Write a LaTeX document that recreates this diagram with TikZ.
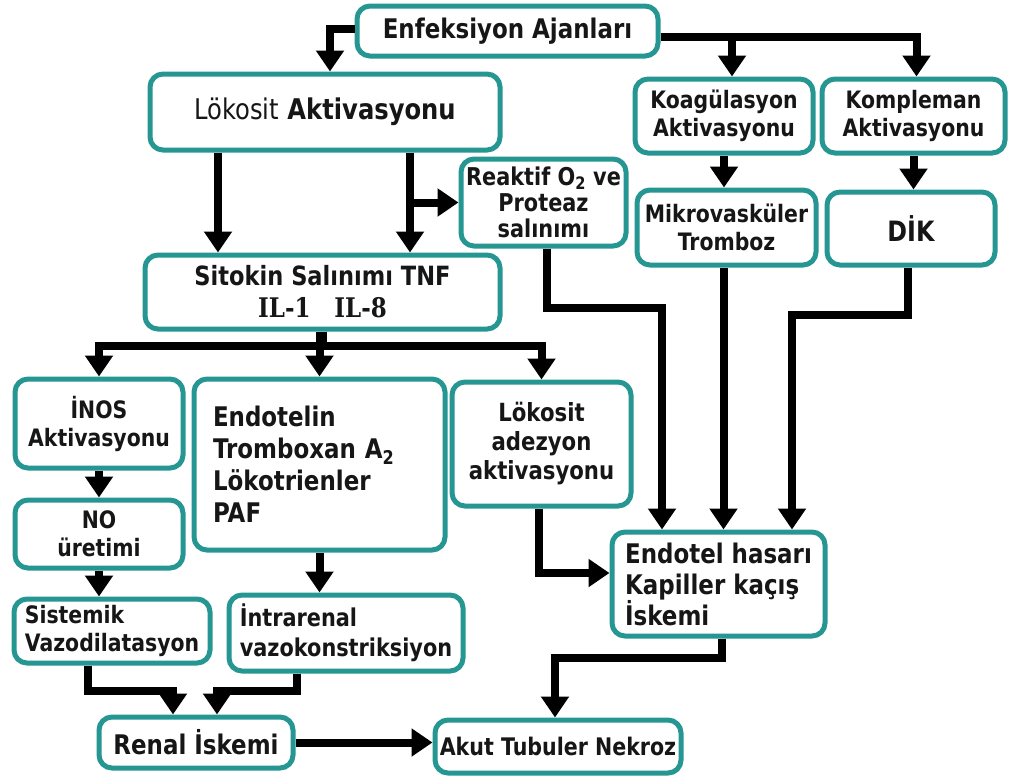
\documentclass[tikz,border=0pt]{standalone}
\usepackage{fontspec}
\setmainfont{DejaVu Sans}[FakeStretch=0.85]
\newfontfamily\slabfont{DejaVu Serif}[FakeStretch=0.85]
\usetikzlibrary{arrows.meta}
\definecolor{tealbox}{RGB}{38,150,146}
\definecolor{ink}{RGB}{22,22,22}
\begin{document}
\begin{tikzpicture}[x=1pt,y=-1pt,
  box/.style={draw=tealbox, line width=5pt, rounded corners=13pt, fill=white,
    align=center, inner sep=3pt, text=ink,
    font=\bfseries\fontsize{24}{28}\selectfont},
  big/.style={font=\bfseries\fontsize{27}{32}\selectfont},
  arr/.style={draw=black, line width=8pt, line join=miter,
    -{Triangle[width=27pt,length=21pt]}}]
\useasboundingbox (0,0) rectangle (1011,780);

% boxes
\node[box, big, minimum width=301pt, minimum height=50pt] (enf) at (507.5,31) {Enfeksiyon Ajanları};
\node[box, minimum width=350pt, minimum height=76pt, font=\bfseries\fontsize{28.5}{32}\selectfont] (lok) at (325,112) {{\mdseries Lökosit} Aktivasyonu};
\node[box, minimum width=178pt, minimum height=74pt] (koag) at (724,116) {Koagülasyon\\Aktivasyonu};
\node[box, minimum width=183pt, minimum height=74pt] (komp) at (913.5,116) {Kompleman\\Aktivasyonu};
\node[box, minimum width=165pt, minimum height=87pt, font=\bfseries\fontsize{24.5}{26}\selectfont] (reak) at (543.5,202.5) {Reaktif O\textsubscript{2} ve\\Proteaz\\salınımı};
\node[box, minimum width=179pt, minimum height=75pt] (mikro) at (726.5,227.5) {Mikrovasküler\\Tromboz};
\node[box, minimum width=168pt, minimum height=73pt, font=\bfseries\fontsize{28}{32}\selectfont] (dik) at (911,228.5) {DİK};
\node[box, minimum width=355pt, minimum height=74pt, font=\bfseries\fontsize{26.5}{32}\selectfont] (sito) at (322.5,292) {Sitokin Salınımı TNF\\{\slabfont\bfseries\fontsize{27}{32}\selectfont IL-1\hspace{24pt}IL-8}};
\node[box, minimum width=168pt, minimum height=89pt] (inos) at (99,423.5) {İNOS\\Aktivasyonu};
\node[box, big, minimum width=251pt, minimum height=171pt, align=left, text width=213pt] (endo) at (319.5,464.5) {Endotelin\\Tromboxan A\textsubscript{2}\\Lökotrienler\\PAF};
\node[box, minimum width=179pt, minimum height=124pt, font=\bfseries\fontsize{25}{29}\selectfont] (adez) at (541.5,444) {Lökosit\\adezyon\\aktivasyonu};
\node[box, minimum width=168pt, minimum height=68pt] (no) at (99,534) {NO\\üretimi};
\node[box, minimum width=196pt, minimum height=64pt, align=left, font=\bfseries\fontsize{24}{28}\selectfont] (sis) at (112,631) {Sistemik\\Vazodilatasyon};
\node[box, minimum width=234pt, minimum height=76pt, align=left, font=\bfseries\fontsize{24.5}{30}\selectfont] (intra) at (346,633) {İntrarenal\\vazokonstriksiyon};
\node[box, big, minimum width=213pt, minimum height=104pt, align=left, font=\bfseries\fontsize{27}{31}\selectfont] (endh) at (718.5,584) {Endotel hasarı\\Kapiller kaçış\\İskemi};
\node[box, big, minimum width=194pt, minimum height=51pt] (renal) at (196,742.5) {Renal İskemi};
\node[box, minimum width=246pt, minimum height=53pt, font=\bfseries\fontsize{24.2}{28}\selectfont] (akut) at (558,746.5) {Akut Tubuler Nekroz};

% connectors from Enfeksiyon Ajanlari
\draw[arr] ([yshift=2pt]enf.west) -| ([xshift=5pt]lok.north);
\coordinate (bar) at ([yshift=-6pt]enf.east);
\draw[arr] (bar) -| ([xshift=3pt]komp.north);
\coordinate (kx) at ([xshift=8pt]koag.north);
\draw[arr] (kx |- bar) -- (kx);

% Lokosit Aktivasyonu
\coordinate (l1) at ([xshift=-107pt]lok.south);
\coordinate (l2) at ([xshift=85pt]lok.south);
\draw[arr] (l1) -- (l1 |- sito.north);
\draw[arr] (l2) -- (l2 |- sito.north);
\draw[arr] (l2 |- reak.west) -- (reak.west);

% right column
\draw[arr] (koag.south) -- (koag.south |- mikro.north);
\draw[arr] (komp.south) -- (komp.south |- dik.north);

% Sitokin
\coordinate (sb) at ([yshift=-14pt]sito.south);
\draw[arr] (sito.south) |- (sb -| inos.north) -- (inos.north);
\draw[arr] (sito.south) |- (sb -| adez.north) -- (adez.north);
\draw[arr] (sito.south -| endo.north) -- (endo.north);

% left column
\draw[arr] (inos.south) -- (no.north);
\draw[arr] (no.south) -- (no.south |- sis.north);
\draw[arr] (endo.south) -- (endo.south |- intra.north);
\draw[arr] ([xshift=-24pt]sis.south) -- ++(0,25) -| ([xshift=-23pt]renal.north);
\draw[arr] ([xshift=-49pt]intra.south) -- ++(0,17) -| ([xshift=21pt]renal.north);
\draw[arr] (renal.east) -- (renal.east -| akut.west);

% into Endotel hasari
\draw[arr] ([xshift=3.5pt]reak.south) -- ++(0,59) -| ([xshift=-56.5pt]endh.north);
\draw[arr] ([xshift=-3pt]mikro.south) -- ([xshift=-3pt]mikro.south |- endh.north);
\draw[arr] ([xshift=-3pt]dik.south) -- ++(0,47) -| ([xshift=73.5pt]endh.north);
\draw[arr] ([xshift=-3pt]adez.south) |- ([yshift=11pt]endh.west);
\draw[arr] ([xshift=3.5pt]endh.south) -- ++(0,19) -| ([xshift=-3pt]akut.north);
\end{tikzpicture}
\end{document}
